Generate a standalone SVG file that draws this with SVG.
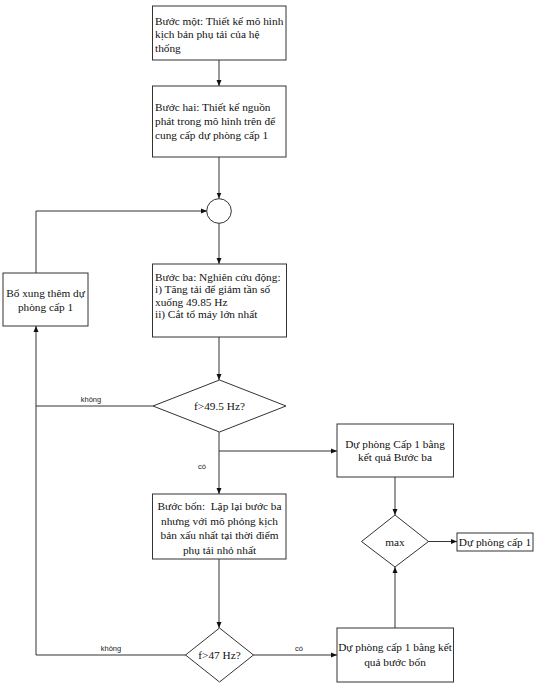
<svg xmlns="http://www.w3.org/2000/svg" width="554" height="695" viewBox="0 0 554 695">
<style>
.box{fill:#fff;stroke:#333;stroke-width:1}
.t{font-family:"Liberation Serif","Times New Roman",serif;font-size:11.3px;fill:#111}
.c{text-anchor:middle}
.lbl{font-family:"Liberation Sans",Arial,sans-serif;font-size:7.5px;fill:#222}
.ln{fill:none;stroke:#333;stroke-width:1}
</style>
<defs>
<marker id="ah" markerUnits="userSpaceOnUse" markerWidth="6" markerHeight="6" refX="6" refY="3" orient="auto">
<path d="M0,0.5 L6,3 L0,5.5 z" fill="#111"/>
</marker>
</defs>
<rect width="554" height="695" fill="#fff"/>
<g id="connectors">
<line class="ln" x1="219" y1="60" x2="219" y2="86" marker-end="url(#ah)"/>
<line class="ln" x1="219" y1="157" x2="219" y2="198.5" marker-end="url(#ah)"/>
<line class="ln" x1="219" y1="223" x2="219" y2="264" marker-end="url(#ah)"/>
<line class="ln" x1="219" y1="337" x2="219" y2="380" marker-end="url(#ah)"/>
<line class="ln" x1="219" y1="432" x2="219" y2="494" marker-end="url(#ah)"/>
<polyline class="ln" points="219,451 337,451" marker-end="url(#ah)"/>
<line class="ln" x1="219" y1="559" x2="219" y2="628" marker-end="url(#ah)"/>
<polyline class="ln" points="186,655 36,655 36,326" marker-end="url(#ah)"/>
<line class="ln" x1="153" y1="406" x2="36" y2="406"/>
<polyline class="ln" points="36,273 36,211 207,211" marker-end="url(#ah)"/>
<line class="ln" x1="253" y1="655" x2="337" y2="655" marker-end="url(#ah)"/>
<line class="ln" x1="395" y1="628" x2="395" y2="567" marker-end="url(#ah)"/>
<line class="ln" x1="395" y1="477" x2="395" y2="515" marker-end="url(#ah)"/>
<line class="ln" x1="428" y1="541.5" x2="457" y2="541.5" marker-end="url(#ah)"/>
<text class="lbl c" x="91" y="402">không</text>
<text class="lbl c" x="111" y="651">không</text>
<text class="lbl c" x="202" y="469">có</text>
<text class="lbl c" x="299" y="651">có</text>
</g>
<g id="step1">
<rect class="box" x="152.5" y="6" width="133.5" height="54"/>
<text class="t" x="155" y="24.5">Bước một: Thiết kế mô hình</text>
<text class="t" x="155" y="38">kịch bản phụ tải của hệ</text>
<text class="t" x="155" y="51.5">thống</text>
</g>
<g id="step2">
<rect class="box" x="152.5" y="86" width="133.5" height="71"/>
<text class="t" x="155" y="110.5">Bước hai: Thiết kế nguồn</text>
<text class="t" x="155" y="124.5">phát trong mô hình trên để</text>
<text class="t" x="155" y="138.5">cung cấp dự phòng cấp 1</text>
</g>
<g id="junction">
<circle class="box" cx="219" cy="211" r="12.3"/>
</g>
<g id="step3">
<rect class="box" x="152.5" y="264" width="134" height="73"/>
<text class="t" x="155" y="280.5">Bước ba: Nghiên cứu động:</text>
<text class="t" x="155" y="293">i) Tăng tải để giảm tần số</text>
<text class="t" x="155" y="305.5">xuống 49.85 Hz</text>
<text class="t" x="155" y="318">ii) Cắt tổ máy lớn nhất</text>
</g>
<g id="add-reserve">
<rect class="box" x="3" y="273" width="85" height="53"/>
<text class="t c" x="45.5" y="297">Bổ xung thêm dự</text>
<text class="t c" x="45.5" y="310.5">phòng cấp 1</text>
</g>
<g id="decision1">
<polygon class="box" points="219.5,380 286,406 219.5,432 153,406"/>
<text class="t c" x="219.5" y="410">f&gt;49.5 Hz?</text>
</g>
<g id="reserve3">
<rect class="box" x="337" y="424" width="116.5" height="53"/>
<text class="t c" x="395" y="448">Dự phòng Cấp 1 bằng</text>
<text class="t c" x="395" y="461">kết quả Bước ba</text>
</g>
<g id="step4">
<rect class="box" x="152.5" y="494" width="133.5" height="65"/>
<text class="t c" x="219.5" y="510" xml:space="preserve">Bước bốn:  Lặp lại bước ba</text>
<text class="t c" x="219.5" y="524.5">nhưng với mô phỏng kịch</text>
<text class="t c" x="219.5" y="539">bản xấu nhất tại thời điểm</text>
<text class="t c" x="219.5" y="554">phụ tải nhỏ nhất</text>
</g>
<g id="max">
<polygon class="box" points="395,515 428.5,541.5 395,567 361.5,541.5"/>
<text class="t c" x="395" y="545.5">max</text>
</g>
<g id="reserve-out">
<rect class="box" x="457" y="533" width="76" height="18"/>
<text class="t c" x="495" y="546">Dự phòng cấp 1</text>
</g>
<g id="decision2">
<polygon class="box" points="219.5,628 253.5,655 219.5,682 185.5,655"/>
<text class="t c" x="219.5" y="659">f&gt;47 Hz?</text>
</g>
<g id="reserve4">
<rect class="box" x="337" y="628" width="116.5" height="54"/>
<text class="t c" x="395" y="651">Dự phòng cấp 1 bằng kết</text>
<text class="t c" x="395" y="666">quả bước bốn</text>
</g>
</svg>
